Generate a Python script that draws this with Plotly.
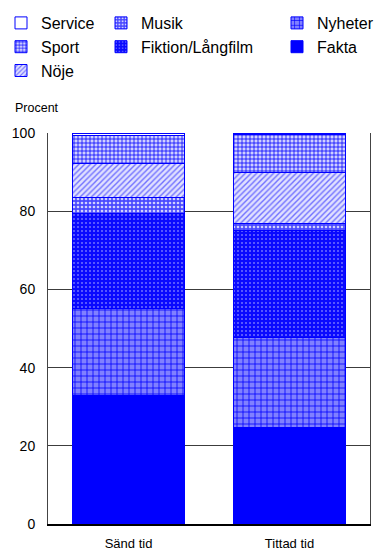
import plotly.graph_objects as go

# ---- data (percent) ----
categories = ["Sänd tid", "Tittad tid"]
fakta = [32.9, 24.8]
nyheter = [22.3, 22.8]
fiktion = [24.3, 27.4]
musik = [3.9, 1.8]
noje = [8.7, 13.0]
sport = [7.3, 9.7]
service = [0.6, 0.5]
y_ticks = [0, 20, 40, 60, 80, 100]
y_title = "Procent"

BLUE = "#0000ff"
FONT = "Liberation Sans, Arial, sans-serif"

# (name, values, legend, rank, pattern)
series = [
    ("Fakta", fakta, "legend3", 2, dict(shape="")),
    ("Nyheter", nyheter, "legend3", 1,
     dict(shape="+", bgcolor="#8080ff", fgcolor=BLUE, size=6, solidity=0.25, fillmode="replace")),
    ("Fiktion/Långfilm", fiktion, "legend2", 2,
     dict(shape=".", bgcolor="#0a0aff", fgcolor="#7070ff", size=4, solidity=0.2, fillmode="replace")),
    ("Musik", musik, "legend2", 1,
     dict(shape=".", bgcolor="#4a4aff", fgcolor="#d0d0ff", size=4, solidity=0.35, fillmode="replace")),
    ("Nöje", noje, "legend", 3,
     dict(shape="/", bgcolor="#e0e0ff", fgcolor="#7070ff", size=4, solidity=0.35, fillmode="replace")),
    ("Sport", sport, "legend", 2,
     dict(shape="+", bgcolor="#d0d0ff", fgcolor=BLUE, size=4, solidity=0.35, fillmode="replace")),
    ("Service", service, "legend", 1, dict(shape="")),
]

fig = go.Figure()
for name, vals, leg, rank, pat in series:
    if name == "Fakta":
        color = BLUE
    elif name == "Service":
        color = "#ffffff"
    else:
        color = pat.get("bgcolor", BLUE)
    fig.add_trace(go.Bar(
        x=categories, y=vals, name=name,
        legend=leg, legendrank=rank, legendgroup=name,
        marker=dict(color=color, pattern=pat, line=dict(color=BLUE, width=1)),
        hoverinfo="name+y",
    ))

W, H = 379, 550
L, R, T, B = 48, 9, 133, 26
PW, PH = W - L - R, H - T - B


def px_x(px):
    return (px - L) / PW


def px_y(py):
    return (H - B - py) / PH


legend_common = dict(
    orientation="v", traceorder="normal", tracegroupgap=5,
    font=dict(family=FONT, size=16, color="#000"),
    bgcolor="rgba(0,0,0,0)", borderwidth=0,
    xref="paper", yref="paper",
    xanchor="left", yanchor="top", itemclick=False,
)

fig.update_layout(
    width=W, height=H,
    barmode="stack", bargap=0.3,
    plot_bgcolor="#ffffff", paper_bgcolor="#ffffff",
    margin=dict(l=L, r=R, t=T, b=B, autoexpand=False),
    font=dict(family=FONT, size=14, color="#000"),
    legend=dict(legend_common, x=px_x(1), y=px_y(6)),
    legend2=dict(legend_common, x=px_x(101), y=px_y(6)),
    legend3=dict(legend_common, x=px_x(277), y=px_y(6)),
    xaxis=dict(
        showline=True, linecolor="#000", linewidth=2, mirror=False,
        ticks="", showgrid=False,
        tickfont=dict(family=FONT, size=13, color="#000"),
        ticklabelstandoff=6,
    ),
    yaxis=dict(
        range=[0, 100], tickvals=y_ticks,
        showline=True, linecolor="#444", linewidth=1, mirror=True,
        showgrid=True, gridcolor="#3c3c3c", gridwidth=1,
        zeroline=False, ticks="",
        tickfont=dict(family=FONT, size=14, color="#000"),
        ticklabelstandoff=9,
    ),
    annotations=[
        dict(text=y_title, xref="paper", yref="paper",
             x=px_x(13), y=px_y(108), xanchor="left", yanchor="middle",
             showarrow=False, font=dict(family=FONT, size=12.5, color="#000")),
        dict(text="<b>Typ av program efter genre</b>", xref="paper", yref="paper",
             x=px_x(3), y=px_y(-9), xanchor="left", yanchor="middle",
             showarrow=False, font=dict(family=FONT, size=17, color="#000")),
    ],
    showlegend=True,
)

fig.write_html(
    "out.html",
    config={"displayModeBar": False},
    post_script="document.body.style.margin='0';document.body.style.overflow='hidden';",
)
